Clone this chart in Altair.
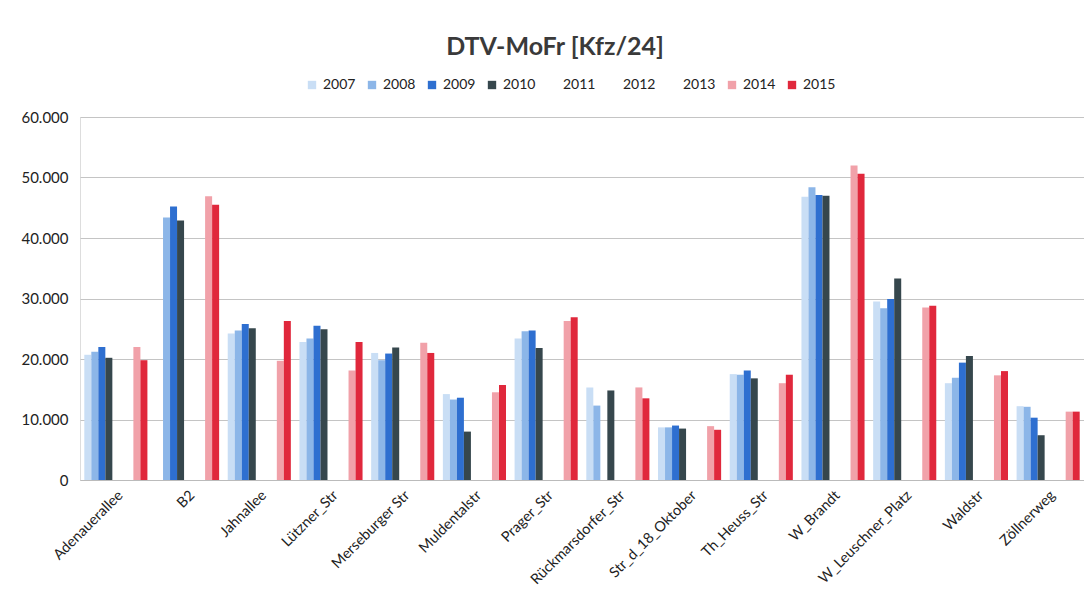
import altair as alt
import pandas as pd

categories = ["Adenauerallee", "B2", "Jahnallee", "Lützner_Str", "Merseburger Str",
              "Muldentalstr", "Prager_Str", "Rückmarsdorfer_Str", "Str_d_18_Oktober",
              "Th_Heuss_Str", "W_Brandt", "W_Leuschner_Platz", "Waldstr", "Zöllnerweg"]
years = ["2007", "2008", "2009", "2010", "2011", "2012", "2013", "2014", "2015"]

# None = no value
v2007 = [20700, None, 24200, 22800, 21000, 14200, 23400, 15300, 8700, 17500, 46800, 29500, 16000, 12200]
v2008 = [21200, 43400, 24700, 23400, 19800, 13300, 24600, 12300, 8700, 17400, 48400, 28400, 16900, 12100]
v2009 = [22000, 45200, 25800, 25500, 20900, 13600, 24700, None, 9000, 18100, 47100, 29900, 19400, 10300]
v2010 = [20200, 42900, 25100, 24900, 21900, 8000, 21800, 14800, 8500, 16800, 47000, 33300, 20500, 7400]
v2014 = [22000, 46900, 19700, 18100, 22700, 14500, 26300, 15300, 8900, 16000, 52000, 28500, 17300, 11300]
v2015 = [19800, 45500, 26300, 22800, 21000, 15700, 26900, 13500, 8300, 17400, 50600, 28800, 18000, 11300]

series = {"2007": v2007, "2008": v2008, "2009": v2009, "2010": v2010,
          "2014": v2014, "2015": v2015}

rows = []
for y, vals in series.items():
    for c, v in zip(categories, vals):
        if v is not None:
            rows.append({"Ort": c, "Jahr": y, "DTV": v})
df = pd.DataFrame(rows)

colors = ["#c9def5", "#8cb6e8", "#2e6fd0", "#36474d", "#ffffff", "#ffffff", "#ffffff",
          "#f1a1a9", "#e0283c"]

FONT = "Lato"

chart = alt.Chart(df).mark_bar().encode(
    x=alt.X("Ort:N", sort=categories, title=None,
            scale=alt.Scale(paddingInner=0.12, paddingOuter=0.06),
            axis=alt.Axis(labelAngle=-45, labelFontSize=14.5, labelColor="#222222",
                          labelFont=FONT, ticks=False, domainColor="#bbbbbb",
                          labelPadding=8, labelAlign="right", labelBaseline="top")),
    xOffset=alt.XOffset("Jahr:N", scale=alt.Scale(domain=years, paddingInner=0, paddingOuter=0)),
    y=alt.Y("DTV:Q", title=None,
            scale=alt.Scale(domain=[0, 60000]),
            axis=alt.Axis(values=[0, 10000, 20000, 30000, 40000, 50000, 60000],
                          labelExpr="replace(format(datum.value, ','), ',', '.')",
                          labelFontSize=15, labelColor="#222222", labelFont=FONT,
                          ticks=False, domain=False, labelPadding=12,
                          gridColor="#c4c4c4", gridWidth=1)),
    color=alt.Color("Jahr:N", scale=alt.Scale(domain=years, range=colors),
                    legend=alt.Legend(title=None, orient="none", legendX=225, legendY=-39,
                                      direction="horizontal", columns=9,
                                      symbolType="square", symbolSize=70,
                                      symbolStrokeWidth=0,
                                      labelFontSize=14, labelFont=FONT,
                                      labelColor="#222222", labelOffset=4,
                                      columnPadding=9)),
).properties(
    width=1004, height=363,
    title=alt.TitleParams("DTV-MoFr [Kfz/24]", fontSize=25, font=FONT, fontWeight="bold",
                          color="#3a3a3a", anchor="middle", dx=-27, offset=18),
    autosize=alt.AutoSizeParams(type="none"),
    padding={"left": 72, "top": 109, "right": 0, "bottom": 110},
).configure_view(stroke=None).configure(background="white")

chart.save("out.html", embed_options={"renderer": "svg", "actions": False})
